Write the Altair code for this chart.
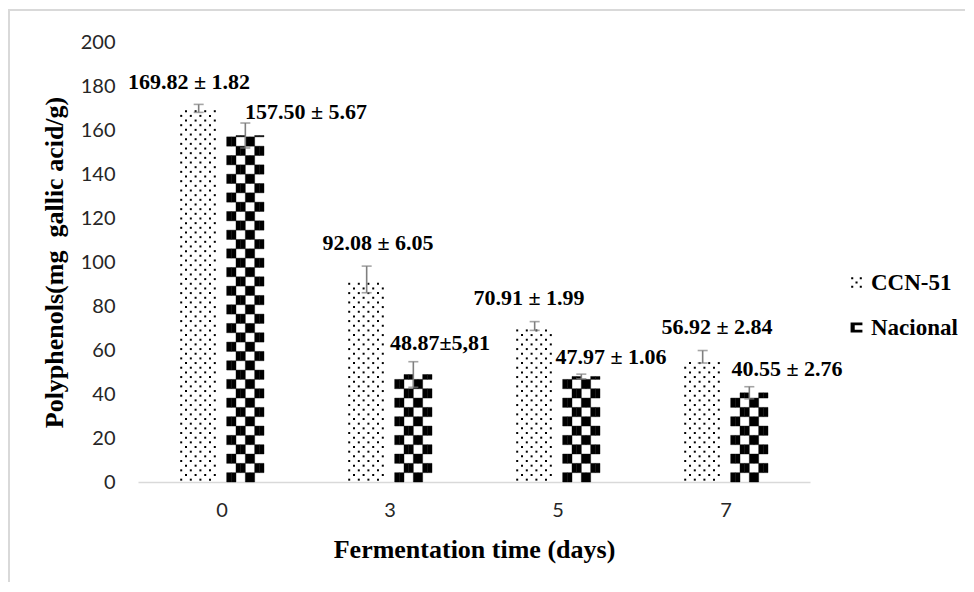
import math
import altair as alt
import pandas as pd

# ---------------- data ----------------
days = ["0", "3", "5", "7"]
series = ["CCN-51", "Nacional"]
ccn_values = [169.82, 92.08, 70.91, 56.92]
ccn_errors = [1.82, 6.05, 1.99, 2.84]
nac_values = [157.50, 48.87, 47.97, 40.55]
nac_errors = [5.67, 5.81, 1.06, 2.76]
ccn_labels = ["169.82 ± 1.82", "92.08 ± 6.05", "70.91 ± 1.99", "56.92 ± 2.84"]
nac_labels = ["157.50 ± 5.67", "48.87±5,81", "47.97 ± 1.06", "40.55 ± 2.76"]
y_ticks = [0, 20, 40, 60, 80, 100, 120, 140, 160, 180, 200]
y_title = "Polyphenols(mg\u00a0 gallic acid/g)"
x_title = "Fermentation time (days)"

# ---------------- styling constants ----------------
SERIF = "Liberation Serif"
SANS = "Lato"
GRID_GRAY = "#d9d9d9"
ERR_GRAY = "#7f7f7f"
CELL = 4.24   # checker cell height (data units)
DOT = 2.12    # dot row spacing (data units)
# label nudges in pixels (dx, dy) relative to the top of each error bar
NUDGE = {
    ("0", "CCN-51"): (-5, -22), ("0", "Nacional"): (56, -11),
    ("3", "CCN-51"): (16, -23), ("3", "Nacional"): (22, -19),
    ("5", "CCN-51"): (-1, -24), ("5", "Nacional"): (25, -17),
    ("7", "CCN-51"): (19, -24), ("7", "Nacional"): (33, -18),
}

rows = []
for d, v, e, l in zip(days, ccn_values, ccn_errors, ccn_labels):
    rows.append({"day": d, "series": "CCN-51", "value": v, "err": e, "label": l})
for d, v, e, l in zip(days, nac_values, nac_errors, nac_labels):
    rows.append({"day": d, "series": "Nacional", "value": v, "err": e, "label": l})
bars = pd.DataFrame(rows)
bars["lo"] = bars["value"] - bars["err"]
bars["hi"] = bars["value"] + bars["err"]

# sub-slots inside each day band (fill pattern): pad | CCN | gap | Nacional | pad
slots = ([f"L{i}" for i in range(9)] + [f"C{i}" for i in range(8)] + ["G0", "G1"]
         + [f"N{i}" for i in range(8)] + [f"R{i}" for i in range(9)])

# checkerboard cells for Nacional
cells = []
for d, v in zip(days, nac_values):
    nrows = math.ceil(v / CELL)
    for k in range(nrows):
        y0 = k * CELL
        y1 = min((k + 1) * CELL, v)
        for j in range(4):
            if (j + k) % 2 == 0:
                for h in (0, 1):
                    cells.append({"day": d, "slot": f"N{2 * j + h}", "y0": y0, "y1": y1})
cells = pd.DataFrame(cells)

# dotted fill for CCN-51
dots = []
for d, v in zip(days, ccn_values):
    for r in range(int(v / DOT)):
        yy = (r + 0.5) * DOT
        start = 0 if r % 2 == 0 else 1
        for i in range(start, 8, 2):
            dots.append({"day": d, "slot": f"C{i}", "y": yy})
dots = pd.DataFrame(dots)

x_axis = alt.Axis(title=x_title, labelAngle=0, ticks=False,
                  tickSize=0, domainColor=GRID_GRAY, domainWidth=1.5,
                  labelFont=SANS, labelFontSize=20, labelColor="#262626",
                  labelPadding=18, titleFont=SERIF, titleFontWeight="bold",
                  titleFontSize=26, titleColor="black", titlePadding=16)
x_scale = alt.Scale(domain=days, paddingInner=0, paddingOuter=0)
x_enc = alt.X("day:N", sort=days, scale=x_scale, axis=x_axis)

slot_scale = alt.Scale(domain=slots, paddingInner=0, paddingOuter=0)
series_scale = alt.Scale(domain=series, paddingInner=0.4, paddingOuter=1)

y_axis = alt.Axis(title=y_title, values=y_ticks, grid=False,
                  domain=False, ticks=False, tickSize=0, labelFont=SANS, labelFontSize=20,
                  labelColor="#262626", labelPadding=23, titleFont=SERIF,
                  titleFontWeight="bold", titleFontSize=26, titleColor="black",
                  titlePadding=13)
y_scale = alt.Scale(domain=[0, 200], nice=False)


def yq(field):
    return alt.Y(f"{field}:Q", scale=y_scale, axis=y_axis)


checker = alt.Chart(cells).mark_bar(color="black", stroke="black", strokeWidth=0.4).encode(
    x=x_enc,
    xOffset=alt.XOffset("slot:N", scale=slot_scale),
    y=yq("y0"),
    y2="y1:Q",
)

dotted = alt.Chart(dots).mark_square(color="black", size=4, opacity=1).encode(
    x=x_enc,
    xOffset=alt.XOffset("slot:N", scale=slot_scale),
    y=yq("y"),
)

err_rule = alt.Chart(bars).mark_rule(color=ERR_GRAY, strokeWidth=1.6).encode(
    x=x_enc,
    xOffset=alt.XOffset("series:N", scale=series_scale),
    y=yq("lo"),
    y2="hi:Q",
)
cap_lo = alt.Chart(bars).mark_tick(color=ERR_GRAY, size=10, thickness=1.6).encode(
    x=x_enc,
    xOffset=alt.XOffset("series:N", scale=series_scale),
    y=yq("lo"),
)
cap_hi = alt.Chart(bars).mark_tick(color=ERR_GRAY, size=10, thickness=1.6).encode(
    x=x_enc,
    xOffset=alt.XOffset("series:N", scale=series_scale),
    y=yq("hi"),
)

ccn_path = ("M-0.9,-0.9h0.35v0.35h-0.35z M0.55,-0.9h0.35v0.35h-0.35z "
            "M-0.17,-0.17h0.35v0.35h-0.35z M-0.9,0.55h0.35v0.35h-0.35z "
            "M0.55,0.55h0.35v0.35h-0.35z")
nac_path = "M-1,-0.85H1V-0.4H-0.3V0.4H1V0.85H-1Z"

legend_layer = alt.Chart(bars).mark_point(filled=True, opacity=0, size=1, color="black").encode(
    x=x_enc,
    xOffset=alt.XOffset("series:N", scale=series_scale),
    y=yq("value"),
    shape=alt.Shape("series:N", scale=alt.Scale(domain=series, range=[ccn_path, nac_path]),
                    legend=alt.Legend(title=None, orient="none", legendX=707, legendY=229,
                                      symbolSize=140, symbolFillColor="black",
                                      symbolStrokeColor="black", symbolStrokeWidth=0,
                                      symbolOpacity=1, labelFont=SERIF, labelFontSize=23,
                                      labelFontWeight="bold", labelColor="black",
                                      labelOffset=3, rowPadding=21, padding=0)),
)

label_layers = []
for (d, s), (ddx, ddy) in NUDGE.items():
    label_layers.append(
        alt.Chart(bars).transform_filter(
            (alt.datum.day == d) & (alt.datum.series == s)
        ).mark_text(font=SERIF, fontWeight="bold", fontSize=22, color="black",
                    align="center", baseline="middle", dx=ddx, dy=ddy).encode(
            x=x_enc,
            xOffset=alt.XOffset("series:N", scale=series_scale),
            y=yq("hi"),
            text="label:N",
        )
    )

one = pd.DataFrame({"k": [0]})
frame_left = alt.Chart(one).mark_rule(color=GRID_GRAY, strokeWidth=2).encode(
    x=alt.value(-129), y=alt.value(-32), y2=alt.value(560))
frame_top = alt.Chart(one).mark_rule(color=GRID_GRAY, strokeWidth=2).encode(
    y=alt.value(-32), x=alt.value(-130), x2=alt.value(840))

chart = alt.layer(
    checker, dotted, err_rule, cap_lo, cap_hi, legend_layer, *label_layers,
    frame_left, frame_top,
).resolve_scale(xOffset="independent").properties(
    width=672, height=440, background="white",
    padding={"left": 130, "top": 34, "right": 155, "bottom": 100},
    autosize=alt.AutoSizeParams(type="none"),
).configure_view(strokeWidth=0, strokeOpacity=0)

chart.save("out.html", embed_options={"renderer": "svg", "actions": False})
